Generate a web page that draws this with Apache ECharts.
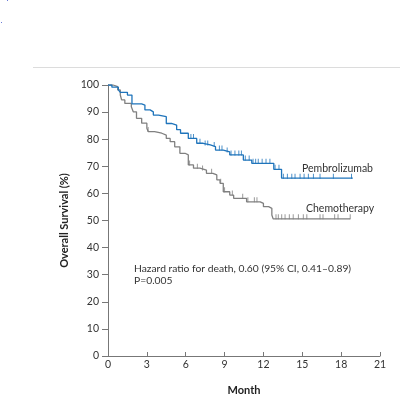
<!DOCTYPE html>
<html><head><meta charset="utf-8">
<script src="https://cdn.jsdelivr.net/npm/echarts@6/dist/echarts.min.js"></script>
<style>html,body{margin:0;padding:0;background:#fff;overflow:hidden;}#c{width:400px;height:396px;}</style>
</head><body><div id="c"></div>
<script>
var xTicks = [0, 3, 6, 9, 12, 15, 18, 21];
var yTicks = [0, 10, 20, 30, 40, 50, 60, 70, 80, 90, 100];
var pembroSteps = [[0,100],[0.3,99.2],[0.8,98.2],[0.95,97.3],[1.5,96.3],[1.85,93],[2.6,92.6],[2.85,90.8],[3.25,90.1],[3.5,88.9],[3.9,88.3],[4.5,85.8],[4.9,85.2],[5.3,83.5],[5.6,82.2],[6.2,80.3],[6.85,78.5],[7.35,77.9],[7.9,77.3],[8.3,76],[8.9,75.3],[9.4,74.2],[10.45,72.3],[11.1,71.1],[12.8,68.9],[13.4,65.6],[18.9,65.6]];
var chemoSteps = [[0,100],[0.4,99.4],[0.75,98.2],[0.95,96.3],[1.05,94.5],[1.3,93.2],[1.8,92],[1.95,90.1],[2.2,87.7],[2.6,85.9],[3.0,84],[3.1,82.8],[3.6,82.2],[4.15,81.5],[4.5,80.3],[4.8,79.1],[5.15,77.2],[5.55,74.8],[5.95,74.2],[6.2,70.5],[6.6,69.3],[7.1,68.6],[7.6,67.4],[8.1,66.8],[8.4,65],[8.65,63.7],[8.9,60.6],[9.4,59.4],[9.7,58.2],[10.7,56.9],[11.75,56.3],[12.0,55.1],[12.4,54.5],[12.65,52],[12.75,50.6],[18.7,50.6]];
var pembroCensor = [6.4,6.6,7.1,7.5,7.7,8.2,8.6,8.8,9.2,9.5,9.8,10.1,10.3,10.6,10.9,11.2,11.4,11.6,11.9,12.2,12.5,12.9,13.2,13.54,13.85,14.19,14.44,14.83,15.14,15.47,15.86,16.37,17.4,18.8];
var chemoCensor = [3.1,6.3,6.9,7.3,8.0,8.7,9.0,9.6,10.4,10.8,11.3,11.5,12.97,13.15,13.41,13.67,14.0,14.3,14.7,15.08,15.35,16.37,16.6,17.5,17.76,18.7];
var seriesNames = ['Pembrolizumab', 'Chemotherapy'];
var hazardText = ['Hazard ratio for death, 0.60 (95% CI, 0.41\u20130.89)', 'P=0.005'];
var xName = 'Month';
var yName = 'Overall Survival (%)';

function levelAt(steps, t) {
  var v = steps[0][1];
  for (var i = 0; i < steps.length; i++) { if (steps[i][0] <= t) v = steps[i][1]; }
  return v;
}
var BLUE = '#1f74bb', GRAY = '#808080';
var FONT = 'Lato';
var chart = echarts.init(document.getElementById('c'), null, {renderer: 'canvas'});
chart.setOption({
  animation: false,
  grid: {left: 108, right: 20, top: 85, bottom: 40, containLabel: false, outerBoundsMode: 'none'},
  xAxis: {type: 'value', min: 0, max: 21, interval: 3,
    axisLine: {lineStyle: {color: '#777', width: 1}},
    axisTick: {inside: true, length: 4, lineStyle: {color: '#777'}},
    axisLabel: {color: '#333', fontSize: 10.5, fontFamily: FONT, margin: 3,
      formatter: function (v) { return xTicks.indexOf(v) >= 0 ? String(v) : ''; }},
    splitLine: {show: false},
    name: xName, nameLocation: 'middle', nameGap: 29,
    nameTextStyle: {color: '#222', fontSize: 11, fontWeight: 'bold', fontFamily: FONT}
  },
  yAxis: {type: 'value', min: 0, max: 100, interval: 10,
    axisLine: {show: true, lineStyle: {color: '#777', width: 1}},
    axisTick: {show: true, length: 6, lineStyle: {color: '#777'}},
    axisLabel: {color: '#333', fontSize: 10.5, fontFamily: FONT, margin: 9,
      formatter: function (v) { return yTicks.indexOf(v) >= 0 ? String(v) : ''; }},
    splitLine: {show: false},
    name: yName, nameLocation: 'middle', nameGap: 28, nameRotate: 90,
    nameTextStyle: {color: '#222', fontSize: 11, fontWeight: 'bold', fontFamily: FONT}
  },
  series: [
    {name: seriesNames[1], type: 'line', step: 'end', data: chemoSteps, showSymbol: false,
      lineStyle: {color: GRAY, width: 1.3}, z: 2},
    {name: seriesNames[0], type: 'line', step: 'end', data: pembroSteps, showSymbol: false,
      lineStyle: {color: BLUE, width: 1.3}, z: 3},
    {type: 'scatter', data: chemoCensor.map(function (t) { return [t, levelAt(chemoSteps, t)]; }),
      symbol: 'rect', symbolSize: [1, 5], symbolOffset: [0, -2], itemStyle: {color: GRAY}, z: 2},
    {type: 'scatter', data: pembroCensor.map(function (t) { return [t, levelAt(pembroSteps, t)]; }),
      symbol: 'rect', symbolSize: [1, 5], symbolOffset: [0, -2], itemStyle: {color: BLUE}, z: 3}
  ],
  graphic: [
    {type: 'line', shape: {x1: 33, y1: 67.5, x2: 400, y2: 67.5}, style: {stroke: '#dcdcdc', lineWidth: 1}},
    {type: 'rect', shape: {x: 7, y: 0, width: 1, height: 1}, style: {fill: '#6a7bd8'}},
    {type: 'rect', shape: {x: 1, y: 22, width: 1, height: 1}, style: {fill: '#6a7bd8'}},
    {type: 'text', left: 302, top: 163, style: {text: seriesNames[0], fill: '#333', fontSize: 10.5, fontFamily: FONT}},
    {type: 'text', left: 306, top: 203, style: {text: seriesNames[1], fill: '#333', fontSize: 10.5, fontFamily: FONT}},
    {type: 'text', left: 134, top: 264, style: {text: hazardText[0], fill: '#333', fontSize: 10.3, fontFamily: FONT}},
    {type: 'text', left: 134, top: 276, style: {text: hazardText[1], fill: '#333', fontSize: 10.3, fontFamily: FONT}}
  ]
});
</script></body></html>
